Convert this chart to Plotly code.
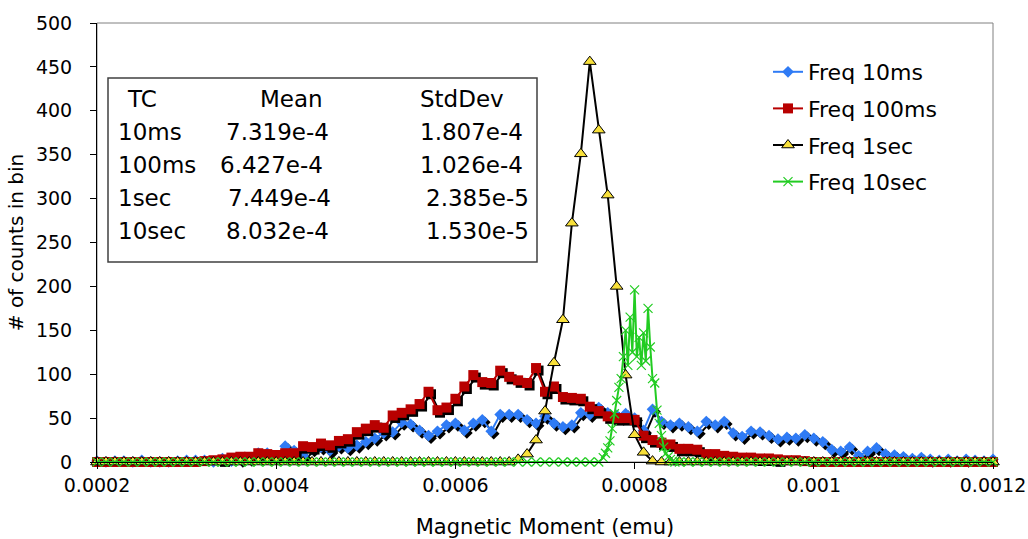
import numpy as np
import plotly.graph_objects as go

# ---------------- data ----------------
bin_x = np.round(0.0002 + np.arange(101) * 1e-5, 7)   # histogram bin positions (emu)

freq_10ms = [1, 0, 1, 1, 0, 2, 0, 0, 0, 1, 2, 2, 2, 0, 4, 1, 3, 4, 10, 10,
             6, 18, 13, 7, 15, 17, 13, 18, 16, 19, 23, 27, 33, 34, 45, 43, 36, 30, 35, 42,
             44, 36, 44, 48, 35, 54, 54, 54, 48, 44, 52, 44, 40, 42, 56, 54, 62, 56, 53, 55,
             50, 36, 60, 46, 42, 44, 40, 35, 46, 42, 46, 33, 29, 35, 34, 30, 26, 28, 27, 31,
             27, 23, 14, 12, 17, 7, 12, 16, 9, 8, 6, 4, 5, 3, 2, 3, 1, 3, 2, 1, 3]

freq_100ms = [0, 0, 0, 0, 0, 0, 0, 0, 0, 0, 0, 0, 1, 2, 3, 5, 6, 6, 10, 9,
              8, 10, 10, 18, 17, 21, 19, 24, 26, 34, 38, 42, 39, 53, 56, 60, 66, 80, 59, 62,
              72, 86, 99, 91, 90, 104, 97, 93, 90, 107, 80, 86, 74, 73, 72, 63, 58, 52, 50, 50,
              48, 30, 25, 22, 20, 15, 15, 14, 9, 9, 7, 6, 5, 5, 4, 4, 3, 2, 2, 1,
              0, 0, 0, 0, 0, 0, 0, 0, 0, 0, 0, 0, 0, 0, 0, 0, 0, 0, 0, 0, 0]

freq_1sec = [0] * 47 + [3, 9, 25, 58, 113, 162, 272, 351, 456, 378, 304, 200, 99, 31, 11, 1] + [0] * 38

# 10 sec series: coarse zero bins plus finely sampled peak region
g_left_x = list(bin_x[bin_x < 0.000762])
g_peak_x = [0.000765, 0.0007675, 0.00077, 0.0007725, 0.000775, 0.0007775, 0.00078, 0.0007825,
            0.000785, 0.0007875, 0.00079, 0.0007925, 0.000795, 0.0007975, 0.0008, 0.0008025,
            0.000805, 0.0008075, 0.00081, 0.0008125, 0.000815, 0.0008175, 0.00082, 0.0008225,
            0.000825, 0.0008275, 0.00083, 0.0008325, 0.000835, 0.0008375, 0.00084, 0.0008425,
            0.000845]
g_peak_y = [5, 10, 16, 24, 38, 55, 70, 85, 95, 120, 150, 110, 165, 125, 196, 120,
            142, 110, 147, 115, 175, 131, 95, 90, 59, 44, 30, 17, 10, 6, 3, 1, 0]
g_right_x = list(bin_x[bin_x > 0.000848])
freq_10sec_x = g_left_x + g_peak_x + g_right_x
freq_10sec = [0] * len(g_left_x) + g_peak_y + [0] * len(g_right_x)

series_names = ["Freq 10ms", "Freq 100ms", "Freq 1sec", "Freq 10sec"]

table_header = ["TC", "Mean", "StdDev"]
table_rows = [["10ms", "7.319e-4", "1.807e-4"],
              ["100ms", "6.427e-4", "1.026e-4"],
              ["1sec", "7.449e-4", "2.385e-5"],
              ["10sec", "8.032e-4", "1.530e-5"]]

x_ticks = [0.0002, 0.0004, 0.0006, 0.0008, 0.001, 0.0012]
x_tick_text = ["0.0002", "0.0004", "0.0006", "0.0008", "0.001", "0.0012"]
y_ticks = list(range(0, 501, 50))

# ---------------- layout geometry ----------------
W, H = 1028, 539
L, R, T, B = 97, 35, 23, 77
PW, PH = W - L - R, H - T - B
XR = [0.0002, 0.0012]
YR = [0, 500]
FONT = "DejaVu Sans"

sh_dx = 2.5 * (XR[1] - XR[0]) / PW
sh_dy = 2.5 * (YR[1] - YR[0]) / PH

BLUE = "#2F7BF5"
RED = "#B80000"
YEL = "#F8E03A"
GREEN = "#22CC22"

fig = go.Figure()


def shadow(x, y, symbol, size):
    return go.Scatter(x=np.asarray(x) + sh_dx, y=np.asarray(y) - sh_dy, mode="lines+markers",
                      line=dict(color="black", width=2),
                      marker=dict(symbol=symbol, size=size, color="black"),
                      showlegend=False, hoverinfo="skip", cliponaxis=False)


fig.add_trace(shadow(bin_x, freq_10ms, "diamond", 9))
fig.add_trace(go.Scatter(x=bin_x, y=freq_10ms, name=series_names[0], mode="lines+markers",
                         line=dict(color=BLUE, width=2),
                         marker=dict(symbol="diamond", size=9, color=BLUE),
                         legendgroup="a", cliponaxis=False))
fig.add_trace(shadow(bin_x, freq_100ms, "square", 10))
fig.add_trace(go.Scatter(x=bin_x, y=freq_100ms, name=series_names[1], mode="lines+markers",
                         line=dict(color=RED, width=2),
                         marker=dict(symbol="square", size=10, color=RED),
                         legendgroup="b", cliponaxis=False))
fig.add_trace(go.Scatter(x=bin_x, y=freq_1sec, name=series_names[2], mode="lines+markers",
                         line=dict(color="black", width=2),
                         marker=dict(symbol="triangle-up", size=11, color=YEL,
                                     line=dict(color="black", width=1)),
                         legendgroup="c", cliponaxis=False))
fig.add_trace(go.Scatter(x=freq_10sec_x, y=freq_10sec, name=series_names[3], mode="lines+markers",
                         line=dict(color=GREEN, width=2),
                         marker=dict(symbol="x-thin", size=9, color=GREEN,
                                     line=dict(color=GREEN, width=1.2)),
                         legendgroup="d", cliponaxis=False))


def px2paper(px, py):
    return (px - L) / PW, (H - B - py) / PH


annotations = []
col_x = [[125, 258, 418], [116, 224, 418], [116, 218, 418], [116, 226, 424], [116, 224, 424]]
row_y = [99, 132, 165, 198, 231]
rows = [table_header] + table_rows
for r, row in enumerate(rows):
    for c, txt in enumerate(row):
        xp, yp = px2paper(col_x[r][c], row_y[r])
        annotations.append(dict(x=xp, y=yp, xref="paper", yref="paper", text=txt,
                                showarrow=False, xanchor="left", yanchor="middle",
                                font=dict(family=FONT, size=23, color="black")))

bx0, by0 = px2paper(108, 262)
bx1, by1 = px2paper(537, 78)

fig.update_layout(
    width=W, height=H,
    margin=dict(l=L, r=R, t=T, b=B, autoexpand=False),
    paper_bgcolor="white", plot_bgcolor="white",
    font=dict(family=FONT, size=18, color="black"),
    showlegend=True,
    legend=dict(x=px2paper(768, 0)[0], y=px2paper(0, 51)[1], xanchor="left", yanchor="top",
                bgcolor="rgba(255,255,255,0)", borderwidth=0,
                font=dict(family=FONT, size=22, color="black"),
                tracegroupgap=5),
    xaxis=dict(range=XR, tickvals=x_ticks, ticktext=x_tick_text, showgrid=False, zeroline=False,
               showline=True, linecolor="black", linewidth=1, ticks="outside", ticklen=6,
               tickcolor="black", tickfont=dict(size=19),
               title=dict(text="Magnetic Moment (emu)", font=dict(size=21), standoff=24)),
    yaxis=dict(range=YR, tickvals=y_ticks, showgrid=False, zeroline=False,
               showline=True, linecolor="black", linewidth=1, ticks="outside", ticklen=6,
               tickcolor="black", tickfont=dict(size=19), ticklabelstandoff=14,
               title=dict(text="# of counts in bin", font=dict(size=20), standoff=6)),
    shapes=[
        dict(type="rect", xref="paper", yref="paper", x0=0, y0=0, x1=1, y1=1,
             line=dict(color="#808080", width=1), layer="below"),
        dict(type="rect", xref="paper", yref="paper", x0=bx0, y0=by0, x1=bx1, y1=by1,
             line=dict(color="#404040", width=1.5), fillcolor="white", layer="below"),
    ],
    annotations=annotations,
)

fig.write_html("out.html")
